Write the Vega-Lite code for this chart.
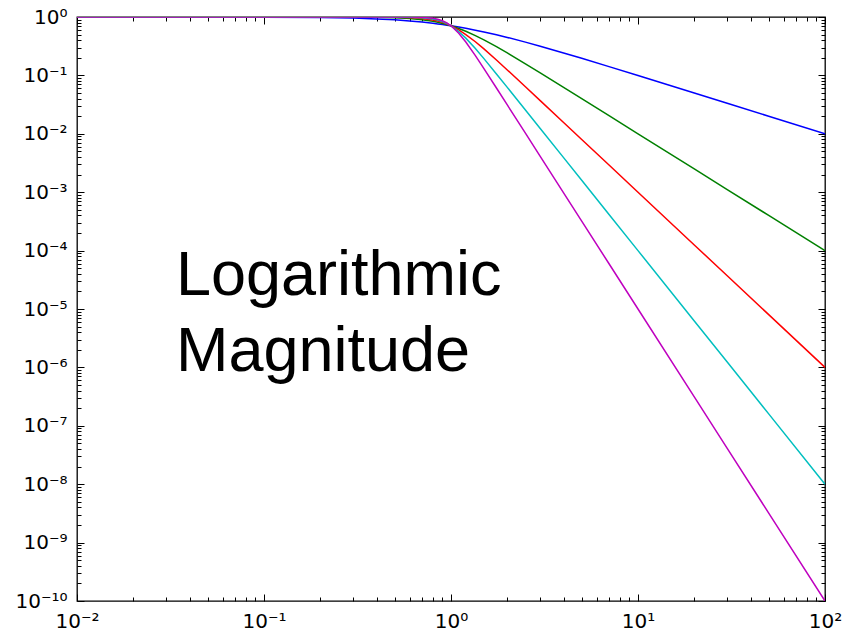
{
  "$schema": "https://vega.github.io/schema/vega-lite/v6.json",
  "width": 748,
  "height": 584,
  "autosize": "none",
  "padding": {"left": 77, "top": 17, "right": 21, "bottom": 33},
  "background": "white",
  "config": {
    "view": {"stroke": "black", "strokeWidth": 1.3},
    "axis": {
      "domain": false,
      "grid": false,
      "labelFont": "DejaVu Sans",
      "labelFontSize": 20,
      "labelColor": "black",
      "tickColor": "black",
      "tickWidth": 1,
      "labelOverlap": false,
      "labelFlush": false,
      "labelBound": false,
      "title": null
    }
  },
  "datasets": {
    "curves": [
      {"w": 0.01, "n1": 0.99995, "n2": 1, "n3": 1, "n4": 1, "n5": 1},
      {"w": 0.1, "n1": 0.99504, "n2": 0.99995, "n3": 1, "n4": 1, "n5": 1},
      {"w": 0.2, "n1": 0.98058, "n2": 0.9992, "n3": 0.99997, "n4": 1, "n5": 1},
      {"w": 0.3, "n1": 0.95783, "n2": 0.99598, "n3": 0.99964, "n4": 0.99997, "n5": 1},
      {"w": 0.4, "n1": 0.9285, "n2": 0.9875, "n3": 0.99796, "n4": 0.99967, "n5": 0.99995},
      {"w": 0.5, "n1": 0.89443, "n2": 0.97014, "n3": 0.99228, "n4": 0.99805, "n5": 0.99951},
      {"w": 0.6, "n1": 0.8575, "n2": 0.9409, "n3": 0.9775, "n4": 0.9917, "n5": 0.99699},
      {"w": 0.7, "n1": 0.81923, "n2": 0.898, "n3": 0.94591, "n4": 0.97237, "n5": 0.98617},
      {"w": 0.8, "n1": 0.7809, "n2": 0.8423, "n3": 0.8901, "n4": 0.9254, "n5": 0.9503},
      {"w": 0.85, "n1": 0.7619, "n2": 0.8106, "n3": 0.8522, "n4": 0.8865, "n5": 0.9141},
      {"w": 0.9, "n1": 0.7433, "n2": 0.7771, "n3": 0.8081, "n4": 0.8361, "n5": 0.8611},
      {"w": 0.95, "n1": 0.725, "n2": 0.7424, "n3": 0.7592, "n4": 0.7753, "n5": 0.7909},
      {"w": 1, "n1": 0.70711, "n2": 0.70711, "n3": 0.70711, "n4": 0.70711, "n5": 0.70711},
      {"w": 1.1, "n1": 0.6727, "n2": 0.637, "n3": 0.6007, "n4": 0.564, "n5": 0.5275},
      {"w": 1.2, "n1": 0.6402, "n2": 0.5704, "n3": 0.5009, "n4": 0.4344, "n5": 0.3729},
      {"w": 1.35, "n1": 0.5952, "n2": 0.481, "n3": 0.3765, "n4": 0.2883, "n5": 0.2177},
      {"w": 1.5, "n1": 0.5547, "n2": 0.4061, "n3": 0.2841, "n4": 0.1938, "n5": 0.1306},
      {"w": 1.75, "n1": 0.4961, "n2": 0.3104, "n3": 0.1834, "n4": 0.106, "n5": 0.06081},
      {"w": 2, "n1": 0.4472, "n2": 0.2425, "n3": 0.124, "n4": 0.06238, "n5": 0.03123},
      {"w": 2.5, "n1": 0.3714, "n2": 0.158, "n3": 0.06387, "n4": 0.02559, "n5": 0.01024},
      {"w": 3, "n1": 0.3162, "n2": 0.1104, "n3": 0.03701, "n4": 0.012345, "n5": 0.004115},
      {"w": 4, "n1": 0.2425, "n2": 0.06238, "n3": 0.015623, "n4": 0.0039062, "n5": 0.00097656},
      {"w": 5, "n1": 0.1961, "n2": 0.03997, "n3": 0.0079997, "n4": 0.0016, "n5": 0.00032},
      {"w": 7, "n1": 0.1414, "n2": 0.020404, "n3": 0.0029154, "n4": 0.00041649, "n5": 0.000059499},
      {"w": 10, "n1": 0.0995, "n2": 0.01, "n3": 0.001, "n4": 0.0001, "n5": 0.00001},
      {"w": 20, "n1": 0.04994, "n2": 0.0025, "n3": 0.000125, "n4": 0.00000625, "n5": 3.125e-7},
      {"w": 30, "n1": 0.03331, "n2": 0.001111, "n3": 0.00003704, "n4": 0.000001235, "n5": 4.115e-8},
      {"w": 50, "n1": 0.019996, "n2": 0.0004, "n3": 0.000008, "n4": 1.6e-7, "n5": 3.2e-9},
      {"w": 100, "n1": 0.0099995, "n2": 0.0001, "n3": 0.000001, "n4": 1e-8, "n5": 1e-10}
    ],
    "label": [
      {"x": 0.0338, "y": 0.0000174, "t": "Logarithmic"},
      {"x": 0.0338, "y": 8.67e-7, "t": "Magnitude"}
    ]
  },
  "resolve": {"axis": {"x": "independent", "y": "independent"}},
  "layer": [
    {
      "data": {"name": "curves"},
      "transform": [{"fold": ["n1", "n2", "n3", "n4", "n5"], "as": ["order", "mag"]}],
      "mark": {"type": "line", "strokeWidth": 1.5, "clip": true},
      "encoding": {
        "x": {
          "field": "w", "type": "quantitative",
          "scale": {"type": "log", "domain": [0.01, 100], "nice": false},
          "axis": {
            "orient": "bottom",
            "values": [0.01, 0.02, 0.03, 0.04, 0.05, 0.06, 0.07, 0.08, 0.09, 0.1, 0.2, 0.3, 0.4, 0.5, 0.6, 0.7, 0.8, 0.9, 1, 2, 3, 4, 5, 6, 7, 8, 9, 10, 20, 30, 40, 50, 60, 70, 80, 90, 100],
            "tickSize": {"condition": {"test": "abs(log(datum.value)/LN10 - round(log(datum.value)/LN10)) < 1e-6", "value": -7}, "value": -4},
            "labelPadding": 17,
            "labelExpr": "abs(log(datum.value)/LN10 - round(log(datum.value)/LN10)) < 1e-6 ? '10' + (round(log(datum.value)/LN10) < 0 ? '⁻' : '') + (abs(round(log(datum.value)/LN10)) >= 10 ? '¹⁰' : substring('⁰¹²³⁴⁵⁶⁷⁸⁹', abs(round(log(datum.value)/LN10)), abs(round(log(datum.value)/LN10)) + 1)) : ''"
          }
        },
        "y": {
          "field": "mag", "type": "quantitative",
          "scale": {"type": "log", "domain": [1e-10, 1], "nice": false},
          "axis": {
            "orient": "left",
            "values": [1e-10, 2e-10, 3e-10, 4e-10, 5e-10, 6e-10, 7e-10, 8e-10, 9e-10, 1e-9, 2e-9, 3e-9, 4e-9, 5e-9, 6e-9, 7e-9, 8e-9, 9e-9, 1e-8, 2e-8, 3e-8, 4e-8, 5e-8, 6e-8, 7e-8, 8e-8, 9e-8, 1e-7, 2e-7, 3e-7, 4e-7, 5e-7, 6e-7, 7e-7, 8e-7, 9e-7, 1e-6, 2e-6, 3e-6, 4e-6, 5e-6, 6e-6, 7e-6, 8e-6, 9e-6, 1e-5, 2e-5, 3e-5, 4e-5, 5e-5, 6e-5, 7e-5, 8e-5, 9e-5, 1e-4, 2e-4, 3e-4, 4e-4, 5e-4, 6e-4, 7e-4, 8e-4, 9e-4, 0.001, 0.002, 0.003, 0.004, 0.005, 0.006, 0.007, 0.008, 0.009, 0.01, 0.02, 0.03, 0.04, 0.05, 0.06, 0.07, 0.08, 0.09, 0.1, 0.2, 0.3, 0.4, 0.5, 0.6, 0.7, 0.8, 0.9, 1],
            "tickSize": {"condition": {"test": "abs(log(datum.value)/LN10 - round(log(datum.value)/LN10)) < 1e-6", "value": -7}, "value": -4},
            "labelPadding": 17,
            "labelExpr": "abs(log(datum.value)/LN10 - round(log(datum.value)/LN10)) < 1e-6 ? '10' + (round(log(datum.value)/LN10) < 0 ? '⁻' : '') + (abs(round(log(datum.value)/LN10)) >= 10 ? '¹⁰' : substring('⁰¹²³⁴⁵⁶⁷⁸⁹', abs(round(log(datum.value)/LN10)), abs(round(log(datum.value)/LN10)) + 1)) : ''"
          }
        },
        "color": {
          "field": "order", "type": "nominal",
          "scale": {"domain": ["n1", "n2", "n3", "n4", "n5"], "range": ["#0000ff", "#008000", "#ff0000", "#00bfbf", "#bf00bf"]},
          "legend": null
        }
      }
    },
    {
      "data": {"name": "curves"},
      "mark": {"type": "line", "opacity": 0},
      "encoding": {
        "x": {
          "field": "w", "type": "quantitative",
          "axis": {
            "orient": "top",
            "labels": false,
            "values": [0.01, 0.02, 0.03, 0.04, 0.05, 0.06, 0.07, 0.08, 0.09, 0.1, 0.2, 0.3, 0.4, 0.5, 0.6, 0.7, 0.8, 0.9, 1, 2, 3, 4, 5, 6, 7, 8, 9, 10, 20, 30, 40, 50, 60, 70, 80, 90, 100],
            "tickSize": {"condition": {"test": "abs(log(datum.value)/LN10 - round(log(datum.value)/LN10)) < 1e-6", "value": -7}, "value": -4}
          }
        },
        "y": {
          "field": "n1", "type": "quantitative",
          "axis": {
            "orient": "right",
            "labels": false,
            "values": [1e-10, 2e-10, 3e-10, 4e-10, 5e-10, 6e-10, 7e-10, 8e-10, 9e-10, 1e-9, 2e-9, 3e-9, 4e-9, 5e-9, 6e-9, 7e-9, 8e-9, 9e-9, 1e-8, 2e-8, 3e-8, 4e-8, 5e-8, 6e-8, 7e-8, 8e-8, 9e-8, 1e-7, 2e-7, 3e-7, 4e-7, 5e-7, 6e-7, 7e-7, 8e-7, 9e-7, 1e-6, 2e-6, 3e-6, 4e-6, 5e-6, 6e-6, 7e-6, 8e-6, 9e-6, 1e-5, 2e-5, 3e-5, 4e-5, 5e-5, 6e-5, 7e-5, 8e-5, 9e-5, 1e-4, 2e-4, 3e-4, 4e-4, 5e-4, 6e-4, 7e-4, 8e-4, 9e-4, 0.001, 0.002, 0.003, 0.004, 0.005, 0.006, 0.007, 0.008, 0.009, 0.01, 0.02, 0.03, 0.04, 0.05, 0.06, 0.07, 0.08, 0.09, 0.1, 0.2, 0.3, 0.4, 0.5, 0.6, 0.7, 0.8, 0.9, 1],
            "tickSize": {"condition": {"test": "abs(log(datum.value)/LN10 - round(log(datum.value)/LN10)) < 1e-6", "value": -7}, "value": -4}
          }
        }
      }
    },
    {
      "data": {"name": "label"},
      "mark": {"type": "text", "font": "Liberation Sans", "fontSize": 63, "align": "left", "baseline": "alphabetic", "color": "black"},
      "encoding": {
        "x": {"field": "x", "type": "quantitative", "axis": null},
        "y": {"field": "y", "type": "quantitative", "axis": null},
        "text": {"field": "t"}
      }
    }
  ]
}
